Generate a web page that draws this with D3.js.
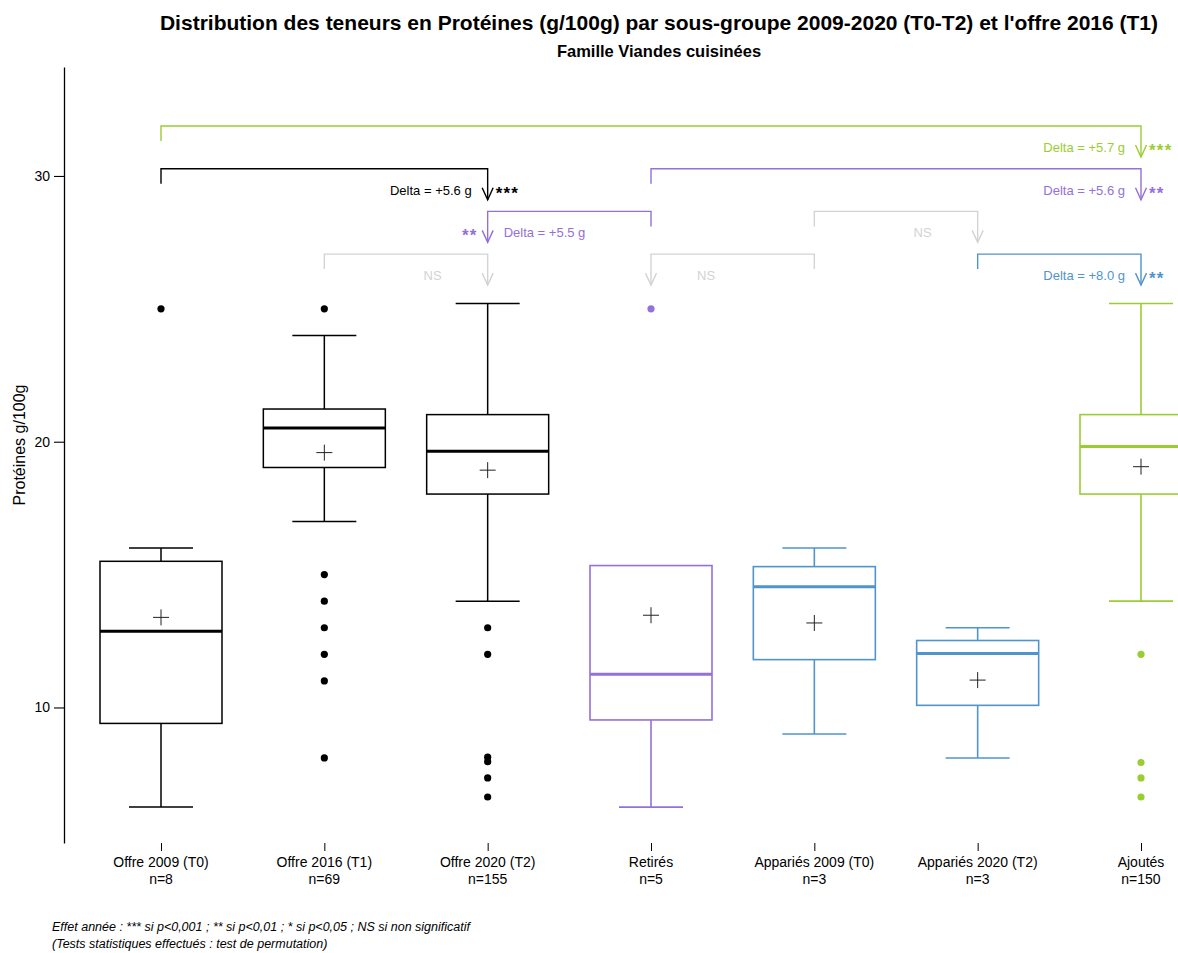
<!DOCTYPE html>
<html><head><meta charset="utf-8">
<script src="https://cdn.jsdelivr.net/npm/d3@7"></script>
<style>body{margin:0;background:#fff}svg{display:block;font-family:"Liberation Sans",Arial,sans-serif}</style>
</head><body><svg id="c" width="1178" height="953"></svg>
<script>
const categories = ["Offre 2009 (T0)","Offre 2016 (T1)","Offre 2020 (T2)","Retirés","Appariés 2009 (T0)","Appariés 2020 (T2)","Ajoutés"];
const counts = [8,69,155,5,3,3,150];
const colors = ["#000000","#000000","#000000","#9370DB","#4F94CD","#4F94CD","#9ACD32"];
const whiskerLow  = [6.25, 17.0, 14.0, 6.25, 9.0, 8.1, 14.0];
const q1          = [9.4, 19.03, 18.03, 9.53, 11.8, 10.08, 18.03];
const medians     = [12.87, 20.52, 19.64, 11.25, 14.54, 12.03, 19.82];
const q3          = [15.5, 21.23, 21.02, 15.34, 15.3, 12.52, 21.02];
const whiskerHigh = [16.0, 24.0, 25.2, 15.34, 16.0, 13.0, 25.2];
const means       = [13.39, 19.59, 18.93, 13.47, 13.18, 11.03, 19.06];
const outliers = [[25],[25,15,14,13,12,11,8.1],[13,12,8.13,7.96,7.35,6.63],[25],[],[],[12,7.93,7.35,6.63]];
const yTicks = [10,20,30];

// comparison brackets: from -> to (arrow at "to"), level 0 = top
const bracketFrom  = [0, 0, 3, 3, 4, 4, 1, 5];
const bracketTo    = [6, 2, 6, 2, 5, 3, 2, 6];
const bracketLevel = [0, 1, 1, 2, 2, 3, 3, 3];
const bracketLabel = ["Delta = +5.7 g","Delta = +5.6 g","Delta = +5.6 g","Delta = +5.5 g","NS","NS","NS","Delta = +8.0 g"];
const bracketStars = ["***","***","**","**","","","","**"];
const bracketColor = ["#9ACD32","#000000","#9370DB","#9370DB","#D3D3D3","#D3D3D3","#D3D3D3","#4F94CD"];

const svg = d3.select("#c");
const x = d3.scalePoint().domain(categories).range([161,1141]);
const y = d3.scaleLinear().domain([4.9,34.1]).range([843,67]);
const boxW = 122, capW = 64;

// title
svg.append("text").attr("x",659).attr("y",30).attr("text-anchor","middle")
  .attr("font-weight","bold").attr("font-size",21)
  .text("Distribution des teneurs en Protéines (g/100g) par sous-groupe 2009-2020 (T0-T2) et l'offre 2016 (T1)");
svg.append("text").attr("x",659).attr("y",57).attr("text-anchor","middle")
  .attr("font-weight","bold").attr("font-size",16.5).text("Famille Viandes cuisinées");

// y axis
const yAxis = svg.append("g").attr("transform","translate(64,0)")
  .call(d3.axisLeft(y).tickValues(yTicks).tickSize(10).tickPadding(4).tickSizeOuter(0));
yAxis.select(".domain").attr("stroke","#000").attr("stroke-width",1.3);
yAxis.selectAll(".tick line").attr("stroke","#000").attr("stroke-width",1.1);
yAxis.selectAll(".tick text").attr("font-size",14).attr("fill","#000").attr("font-family","Liberation Sans, Arial, sans-serif");
svg.append("text").attr("transform","translate(25,445) rotate(-90)").attr("text-anchor","middle")
  .attr("font-size",16).text("Protéines g/100g");

// x axis ticks and labels
const xAxis = svg.append("g").attr("transform","translate(0,843)")
  .call(d3.axisBottom(x).tickSize(8).tickSizeOuter(0).tickFormat(""));
xAxis.select(".domain").remove();
xAxis.selectAll(".tick line").attr("stroke","#000").attr("stroke-width",1);
categories.forEach((c,i)=>{
  const t = svg.append("text").attr("text-anchor","middle").attr("font-size",14);
  t.append("tspan").attr("x",x(c)).attr("y",867).text(c);
  t.append("tspan").attr("x",x(c)).attr("y",884).text("n="+counts[i]);
});

// boxes
categories.forEach((c,i)=>{
  const cx = x(c), col = colors[i], g = svg.append("g");
  const sw = col==="#000000"?1.5:1.6;
  g.append("line").attr("x1",cx).attr("x2",cx).attr("y1",y(whiskerHigh[i])).attr("y2",y(q3[i])).attr("stroke",col).attr("stroke-width",sw);
  g.append("line").attr("x1",cx).attr("x2",cx).attr("y1",y(q1[i])).attr("y2",y(whiskerLow[i])).attr("stroke",col).attr("stroke-width",sw);
  if (whiskerHigh[i] > q3[i])
    g.append("line").attr("x1",cx-capW/2).attr("x2",cx+capW/2).attr("y1",y(whiskerHigh[i])).attr("y2",y(whiskerHigh[i])).attr("stroke",col).attr("stroke-width",sw);
  g.append("line").attr("x1",cx-capW/2).attr("x2",cx+capW/2).attr("y1",y(whiskerLow[i])).attr("y2",y(whiskerLow[i])).attr("stroke",col).attr("stroke-width",sw);
  g.append("rect").attr("x",cx-boxW/2).attr("width",boxW).attr("y",y(q3[i])).attr("height",y(q1[i])-y(q3[i]))
    .attr("fill","none").attr("stroke",col).attr("stroke-width",sw);
  g.append("line").attr("x1",cx-boxW/2).attr("x2",cx+boxW/2).attr("y1",y(medians[i])).attr("y2",y(medians[i])).attr("stroke",col).attr("stroke-width",3);
  const my = y(means[i]);
  g.append("line").attr("x1",cx-8).attr("x2",cx+8).attr("y1",my).attr("y2",my).attr("stroke","#222").attr("stroke-width",1);
  g.append("line").attr("x1",cx).attr("x2",cx).attr("y1",my-8).attr("y2",my+8).attr("stroke","#222").attr("stroke-width",1);
  g.selectAll("circle").data(outliers[i]).join("circle").attr("cx",cx).attr("cy",d=>y(d)).attr("r",3.6).attr("fill",col);
});

// brackets
const topY = 126, step = 42.7;
bracketFrom.forEach((f,i)=>{
  const x1 = x(categories[f]), x2 = x(categories[bracketTo[i]]);
  const yh = topY + bracketLevel[i]*step, col = bracketColor[i];
  const g = svg.append("g").attr("stroke",col).attr("fill","none").attr("stroke-width",1.4);
  g.append("path").attr("d",`M${x1},${yh+15}V${yh}H${x2}V${yh+31}`);
  g.append("path").attr("d",`M${x2-5.5},${yh+19}L${x2},${yh+31}L${x2+5.5},${yh+19}`);
  const right = x2 > x1;
  const isNS = bracketLabel[i]==="NS";
  const gap = isNS ? 46 : 16;
  svg.append("text").attr("x", right ? x2-gap : x2+gap).attr("y",yh+26)
    .attr("text-anchor", right ? "end":"start").attr("font-size",13).attr("fill",col).text(bracketLabel[i]);
  if (bracketStars[i])
    svg.append("text").attr("x", right ? x2+8 : x2-10).attr("y",yh+30)
      .attr("text-anchor", right ? "start":"end").attr("font-size",17).attr("font-weight","bold")
      .attr("letter-spacing",1.2).attr("fill",col).text(bracketStars[i]);
});

// footnote
svg.append("text").attr("x",52).attr("y",931).attr("font-size",12.5).attr("font-style","italic")
  .text("Effet année : *** si p<0,001 ; ** si p<0,01 ; * si p<0,05 ; NS si non significatif");
svg.append("text").attr("x",52).attr("y",948).attr("font-size",12.5).attr("font-style","italic")
  .text("(Tests statistiques effectués : test de permutation)");
</script></body></html>
